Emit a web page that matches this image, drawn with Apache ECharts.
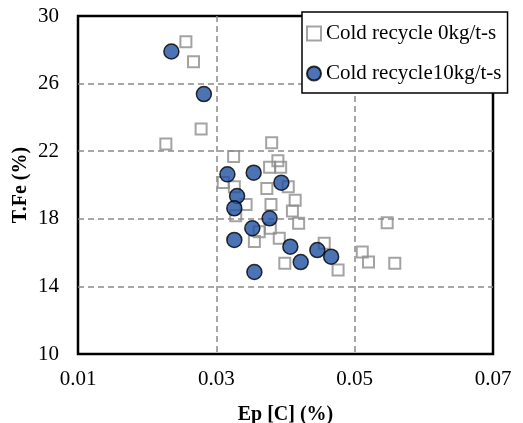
<!DOCTYPE html>
<html>
<head>
<meta charset="utf-8">
<script src="https://cdn.jsdelivr.net/npm/echarts@6/dist/echarts.min.js"></script>
<style>
  html, body { margin: 0; padding: 0; background: #fff; }
  #chart { width: 523px; height: 423px; }
</style>
</head>
<body>
<div id="chart"></div>
<script>
// Series names
const seriesNames = ['Cold recycle 0kg/t-s', 'Cold recycle10kg/t-s'];

// Cold recycle 0 kg/t-s: [Ep[C] %, T.Fe %]
const cold0 = [
  [0.0256, 28.48], [0.0267, 27.30], [0.0278, 23.31], [0.0227, 22.43],
  [0.0380, 22.50], [0.0325, 21.68], [0.0389, 21.44], [0.0377, 21.05],
  [0.0393, 21.05], [0.0310, 20.15], [0.0326, 19.90], [0.0404, 19.90],
  [0.0373, 19.80], [0.0414, 19.10], [0.0343, 18.84], [0.0379, 18.84],
  [0.0410, 18.46], [0.0328, 18.18], [0.0419, 17.73], [0.0362, 17.24],
  [0.0378, 17.44], [0.0391, 16.85], [0.0355, 16.65], [0.0456, 16.55],
  [0.0399, 15.37], [0.0476, 14.97], [0.0511, 16.03], [0.0520, 15.44],
  [0.0547, 17.77], [0.0558, 15.37]
];

// Cold recycle 10 kg/t-s: [Ep[C] %, T.Fe %]
const cold10 = [
  [0.0235, 27.90], [0.0282, 25.38], [0.0316, 20.63], [0.0354, 20.73],
  [0.0394, 20.14], [0.0330, 19.35], [0.0326, 18.62], [0.0377, 18.03],
  [0.0352, 17.44], [0.0326, 16.75], [0.0407, 16.35], [0.0446, 16.15],
  [0.0466, 15.76], [0.0422, 15.44], [0.0355, 14.85]
];

// Axis ticks
const xTicks = [0.01, 0.03, 0.05, 0.07];
const yTicks = [10, 14, 18, 22, 26, 30];

const FONT = '"Liberation Serif", "DejaVu Serif", serif';

const chart = echarts.init(document.getElementById('chart'), null, { renderer: 'canvas' });

const dashed = { color: '#8a8a8a', width: 1.5, type: [6, 4] };

chart.setOption({
  animation: false,
  backgroundColor: '#ffffff',
  grid: {
    left: 78, right: 30, top: 16, bottom: 69,
    outerBoundsMode: 'none',
    show: true,
    borderColor: '#000',
    borderWidth: 2.5,
    backgroundColor: 'transparent'
  },
  legend: {
    orient: 'vertical',
    left: 302,
    top: 12,
    padding: [11, 6, 9, 4],
    itemGap: 19,
    itemWidth: 14,
    itemHeight: 14,
    backgroundColor: '#fff',
    borderColor: '#000',
    borderWidth: 1.5,
    borderRadius: 0,
    textStyle: { fontFamily: FONT, fontSize: 21, color: '#000' },
    data: seriesNames
  },
  xAxis: {
    type: 'value',
    min: 0.01,
    max: 0.07,
    name: 'Ep [C] (%)',
    nameLocation: 'middle',
    nameGap: 51,
    nameMoveOverlap: false,
    nameTextStyle: { fontFamily: FONT, fontSize: 20, fontWeight: 'bold', color: '#000' },
    axisLine: { show: false },
    axisTick: { show: false, customValues: xTicks },
    axisLabel: {
      customValues: xTicks,
      margin: 15,
      fontFamily: FONT, fontSize: 21, color: '#000',
      formatter: v => v.toFixed(2)
    },
    splitLine: { show: true, showMinLine: false, showMaxLine: false, lineStyle: dashed }
  },
  yAxis: {
    type: 'value',
    min: 10,
    max: 30,
    name: 'T.Fe (%)',
    nameLocation: 'middle',
    nameGap: 47,
    nameMoveOverlap: false,
    nameTextStyle: { fontFamily: FONT, fontSize: 20, fontWeight: 'bold', color: '#000' },
    axisLine: { show: false },
    axisTick: { show: false, customValues: yTicks },
    axisLabel: {
      customValues: yTicks,
      margin: 19,
      fontFamily: FONT, fontSize: 21, color: '#000'
    },
    splitLine: { show: true, showMinLine: false, showMaxLine: false, lineStyle: dashed }
  },
  series: [
    {
      name: seriesNames[0],
      type: 'scatter',
      symbol: 'rect',
      symbolSize: 11,
      data: cold0,
      z: 2,
      itemStyle: {
        color: 'rgba(255,255,255,0)',
        borderColor: '#8c8c8c',
        borderWidth: 2
      }
    },
    {
      name: seriesNames[1],
      type: 'scatter',
      symbol: 'circle',
      symbolSize: 15,
      data: cold10,
      z: 3,
      itemStyle: {
        color: '#1f50a0',
        borderColor: '#000',
        borderWidth: 1.5
      }
    }
  ]
});
</script>
</body>
</html>
